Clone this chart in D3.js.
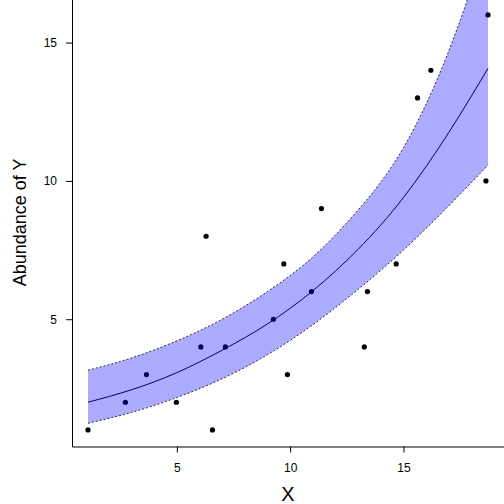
<!DOCTYPE html>
<html>
<head>
<meta charset="utf-8">
<script src="https://cdn.jsdelivr.net/npm/d3@7"></script>
<style>
  body { margin: 0; background: #fff; }
  #chart-container svg { display: block; }
</style>
</head>
<body>
<div id="chart-container"></div>
<script>
// observed points
const ptX = [1.08, 2.73, 3.66, 4.98, 6.06, 6.29, 6.57, 7.14, 9.26, 9.72,
             9.88, 10.94, 11.38, 13.27, 13.41, 14.68, 15.62, 16.21, 18.64, 18.73];
const ptY = [1, 2, 3, 2, 4, 8, 1, 4, 5, 7,
             3, 6, 9, 4, 6, 7, 13, 14, 10, 16];

// fitted curve and its band
const curveX = [1.08, 3, 5, 7, 9, 11, 13, 15, 17, 18.73];
const fitY = [2.0, 2.45, 3.07, 3.88, 4.83, 6.03, 7.53, 9.4, 11.75, 14.07];
const upperY = [3.16, 3.6, 4.22, 5.0, 6.0, 7.25, 8.95, 11.2, 14.7, 18.8];
const lowerY = [1.24, 1.63, 2.17, 2.85, 3.72, 4.8, 6.08, 7.5, 9.1, 10.57];

const xTicks = [5, 10, 15];
const yTicks = [5, 10, 15];

const width = 504, height = 504;
const font = "'Liberation Sans', Arial, Helvetica, sans-serif";

const svg = d3.select("#chart-container")
  .append("svg")
  .attr("width", width)
  .attr("height", height);

const xScale = d3.scaleLinear().domain([0.374, 19.436]).range([72, 504]);
const yScale = d3.scaleLinear().domain([0.4, 16.6]).range([446.5, -1.7]);

svg.append("clipPath").attr("id", "panel")
  .append("rect")
  .attr("x", 72).attr("y", 0)
  .attr("width", 432).attr("height", 446.5);

const points = ptX.map((d, i) => ({ x: d, y: ptY[i] }));
const band = curveX.map((d, i) => ({ x: d, fit: fitY[i], lo: lowerY[i], hi: upperY[i] }));

const panel = svg.append("g").attr("clip-path", "url(#panel)");

// points and fitted line first, band goes over them (transparent)
panel.selectAll("circle")
  .data(points)
  .enter()
  .append("circle")
  .attr("cx", (d) => xScale(d.x))
  .attr("cy", (d) => yScale(d.y))
  .attr("r", 2.6)
  .attr("fill", "#000");

panel.append("path")
  .datum(band)
  .attr("fill", "none")
  .attr("stroke", "#000")
  .attr("stroke-width", 1)
  .attr("d", d3.line().x((d) => xScale(d.x)).y((d) => yScale(d.fit)).curve(d3.curveNatural));

panel.append("path")
  .datum(band)
  .attr("fill", "rgba(0,0,255,0.33)")
  .attr("stroke", "none")
  .attr("d", d3.area()
    .x((d) => xScale(d.x))
    .y0((d) => yScale(d.lo))
    .y1((d) => yScale(d.hi))
    .curve(d3.curveNatural));

["lo", "hi"].forEach((k) => {
  panel.append("path")
    .datum(band)
    .attr("fill", "none")
    .attr("stroke", "#000")
    .attr("stroke-width", 0.8)
    .attr("stroke-dasharray", "2,2")
    .attr("d", d3.line().x((d) => xScale(d.x)).y((d) => yScale(d[k])).curve(d3.curveNatural));
});

// axes, only left and bottom
const gx = svg.append("g")
  .attr("transform", "translate(0,446.5)")
  .call(d3.axisBottom(xScale).tickValues(xTicks).tickSize(6).tickSizeOuter(0).tickPadding(11));

const gy = svg.append("g")
  .attr("transform", "translate(72,0)")
  .call(d3.axisLeft(yScale).tickValues(yTicks).tickSize(6).tickSizeOuter(0).tickPadding(9));

[gx, gy].forEach((g) => {
  g.selectAll("text").attr("font-family", font).attr("font-size", 12).attr("fill", "#000");
  g.selectAll("line").attr("stroke", "#000");
  g.select(".domain").attr("stroke", "#000");
});

svg.append("text")
  .attr("x", xScale((0.374 + 19.436) / 2))
  .attr("y", 501)
  .attr("text-anchor", "middle")
  .attr("font-family", font)
  .attr("font-size", 20)
  .text("X");

svg.append("text")
  .attr("transform", `translate(26, ${(446.5 - 1.7) / 2}) rotate(-90)`)
  .attr("text-anchor", "middle")
  .attr("font-family", font)
  .attr("font-size", 18)
  .text("Abundance of Y");
</script>
</body>
</html>
